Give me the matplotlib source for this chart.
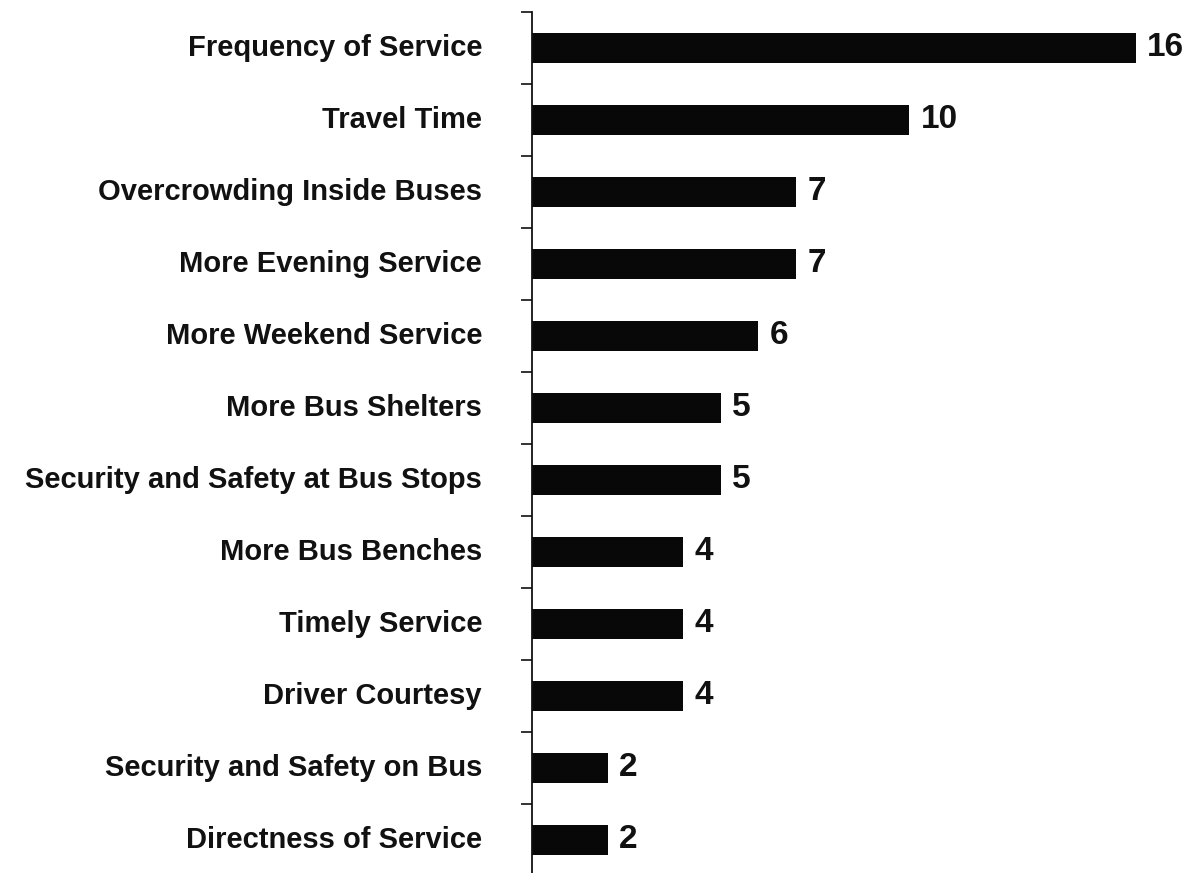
import matplotlib
matplotlib.use("Agg")
import matplotlib.pyplot as plt
import numpy as np

categories = [
    "Frequency of Service",
    "Travel Time",
    "Overcrowding Inside Buses",
    "More Evening Service",
    "More Weekend Service",
    "More Bus Shelters",
    "Security and Safety at Bus Stops",
    "More Bus Benches",
    "Timely Service",
    "Driver Courtesy",
    "Security and Safety on Bus",
    "Directness of Service",
]
values = [16, 10, 7, 7, 6, 5, 5, 4, 4, 4, 2, 2]

plt.rcParams['font.family'] = ['Liberation Sans', 'DejaVu Sans']

fig = plt.figure(figsize=(11.91, 8.73), dpi=100)
ax = fig.add_axes([0.4467, -0.0034, 0.5533, 0.9897])

y = np.arange(len(categories))
ax.barh(y, values, height=0.41, color='#080808', edgecolor='none', zorder=2)

ax.set_ylim(len(categories) - 0.5, -0.5)
ax.set_xlim(0, 17.46)

for s in ['top', 'right', 'bottom']:
    ax.spines[s].set_visible(False)
ax.spines['left'].set_linewidth(1.3)
ax.spines['left'].set_color('#111111')

ax.set_xticks([])
ax.set_yticks(np.arange(len(categories) + 1) - 0.5, minor=False)
ax.set_yticklabels([])
ax.tick_params(axis='y', which='major', direction='out', length=8, width=1.2, color='#111111')

for yi, cat in zip(y, categories):
    ax.annotate(cat, xy=(0, yi), xycoords=('axes fraction', 'data'),
                xytext=(-36, 0), textcoords='offset points',
                ha='right', va='center', fontsize=21, fontweight='bold', color='#111111')

for yi, v in zip(y, values):
    ax.annotate(str(v), xy=(v, yi), xytext=(8, 0), textcoords='offset points',
                ha='left', va='center', fontsize=24, fontweight='bold', color='#111111')

fig.savefig("out.png", dpi=100, facecolor='white')
